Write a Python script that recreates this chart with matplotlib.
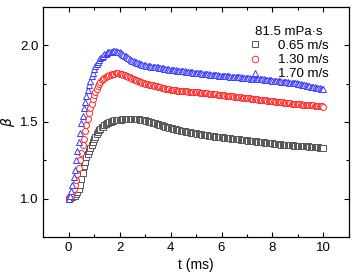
import matplotlib.pyplot as plt
import numpy as np

plt.rcParams['font.family'] = ['Liberation Sans', 'DejaVu Sans']
plt.rcParams['font.size'] = 9.5

# time axis, sampled every 0.05 ms
t = np.round(np.arange(201) * 0.05, 2)

beta_065 = [
    1.00, 1.005, 1.01, 1.01, 1.015, 1.02, 1.03, 1.045, 1.06, 1.09,
    1.13, 1.17, 1.21, 1.24, 1.27, 1.29, 1.31, 1.33, 1.35, 1.37,
    1.39, 1.405, 1.42, 1.435, 1.445, 1.455, 1.465, 1.47, 1.48, 1.485,
    1.49, 1.495, 1.50, 1.503, 1.505, 1.508, 1.51, 1.512, 1.513, 1.514,
    1.515, 1.516, 1.517, 1.518, 1.52, 1.521, 1.52, 1.522, 1.521, 1.521,
    1.52, 1.521, 1.52, 1.519, 1.518, 1.517, 1.515, 1.514, 1.512, 1.511,
    1.51, 1.507, 1.505, 1.502, 1.50, 1.497, 1.495, 1.492, 1.49, 1.487,
    1.485, 1.482, 1.48, 1.477, 1.475, 1.472, 1.47, 1.467, 1.465, 1.462,
    1.46, 1.458, 1.456, 1.454, 1.452, 1.45, 1.448, 1.446, 1.444, 1.442,
    1.44, 1.438, 1.437, 1.435, 1.434, 1.432, 1.431, 1.429, 1.428, 1.426,
    1.425, 1.424, 1.422, 1.421, 1.42, 1.418, 1.417, 1.415, 1.414, 1.412,
    1.41, 1.409, 1.408, 1.407, 1.406, 1.405, 1.404, 1.403, 1.402, 1.401,
    1.40, 1.399, 1.398, 1.397, 1.396, 1.395, 1.394, 1.393, 1.392, 1.391,
    1.39, 1.389, 1.388, 1.387, 1.386, 1.385, 1.384, 1.383, 1.382, 1.381,
    1.38, 1.379, 1.378, 1.377, 1.376, 1.375, 1.374, 1.373, 1.372, 1.371,
    1.37, 1.369, 1.368, 1.367, 1.366, 1.365, 1.364, 1.363, 1.362, 1.361,
    1.36, 1.359, 1.358, 1.357, 1.356, 1.355, 1.354, 1.353, 1.352, 1.351,
    1.35, 1.349, 1.349, 1.348, 1.348, 1.347, 1.347, 1.346, 1.346, 1.345,
    1.345, 1.344, 1.344, 1.343, 1.343, 1.342, 1.342, 1.341, 1.341, 1.340,
    1.34, 1.339, 1.338, 1.337, 1.336, 1.335, 1.334, 1.333, 1.332, 1.331,
    1.33,
]

beta_130 = [
    1.00, 1.01, 1.02, 1.04, 1.06, 1.09, 1.12, 1.16, 1.20, 1.25,
    1.30, 1.35, 1.39, 1.44, 1.48, 1.52, 1.56, 1.59, 1.62, 1.65,
    1.675, 1.695, 1.715, 1.733, 1.75, 1.762, 1.772, 1.78, 1.786, 1.792,
    1.797, 1.801, 1.805, 1.808, 1.811, 1.813, 1.815, 1.816, 1.816, 1.816,
    1.815, 1.813, 1.81, 1.807, 1.804, 1.80, 1.797, 1.793, 1.79, 1.786,
    1.783, 1.78, 1.776, 1.773, 1.77, 1.767, 1.763, 1.76, 1.757, 1.753,
    1.75, 1.748, 1.746, 1.744, 1.742, 1.74, 1.738, 1.736, 1.734, 1.732,
    1.73, 1.728, 1.726, 1.724, 1.722, 1.72, 1.718, 1.716, 1.714, 1.712,
    1.71, 1.709, 1.708, 1.707, 1.706, 1.705, 1.704, 1.703, 1.702, 1.701,
    1.70, 1.70, 1.699, 1.699, 1.698, 1.698, 1.697, 1.697, 1.696, 1.696,
    1.695, 1.694, 1.693, 1.692, 1.691, 1.69, 1.689, 1.688, 1.687, 1.686,
    1.685, 1.684, 1.683, 1.682, 1.681, 1.68, 1.679, 1.678, 1.677, 1.676,
    1.675, 1.674, 1.673, 1.672, 1.671, 1.67, 1.669, 1.668, 1.667, 1.666,
    1.665, 1.664, 1.663, 1.662, 1.661, 1.66, 1.659, 1.658, 1.657, 1.656,
    1.655, 1.654, 1.653, 1.652, 1.651, 1.65, 1.649, 1.648, 1.647, 1.646,
    1.645, 1.644, 1.643, 1.642, 1.641, 1.64, 1.639, 1.638, 1.637, 1.636,
    1.635, 1.634, 1.633, 1.632, 1.631, 1.63, 1.629, 1.628, 1.627, 1.626,
    1.625, 1.624, 1.623, 1.622, 1.621, 1.62, 1.619, 1.618, 1.617, 1.616,
    1.615, 1.614, 1.614, 1.613, 1.613, 1.612, 1.612, 1.611, 1.611, 1.610,
    1.61, 1.609, 1.608, 1.607, 1.606, 1.605, 1.604, 1.603, 1.602, 1.601,
    1.60,
]

beta_170 = [
    1.00, 1.02, 1.05, 1.09, 1.14, 1.19, 1.25, 1.31, 1.37, 1.43,
    1.49, 1.54, 1.59, 1.63, 1.67, 1.71, 1.74, 1.77, 1.80, 1.82,
    1.845, 1.863, 1.88, 1.893, 1.905, 1.915, 1.925, 1.933, 1.94, 1.945,
    1.95, 1.953, 1.955, 1.957, 1.959, 1.96, 1.96, 1.96, 1.958, 1.956,
    1.953, 1.948, 1.943, 1.938, 1.933, 1.927, 1.921, 1.915, 1.91, 1.905,
    1.90, 1.896, 1.892, 1.888, 1.885, 1.882, 1.879, 1.876, 1.873, 1.871,
    1.869, 1.867, 1.865, 1.863, 1.862, 1.86, 1.859, 1.858, 1.857, 1.856,
    1.855, 1.853, 1.852, 1.85, 1.849, 1.847, 1.846, 1.844, 1.843, 1.841,
    1.84, 1.839, 1.838, 1.837, 1.836, 1.835, 1.834, 1.833, 1.832, 1.831,
    1.83, 1.829, 1.828, 1.827, 1.826, 1.825, 1.824, 1.823, 1.822, 1.821,
    1.82, 1.819, 1.818, 1.817, 1.816, 1.815, 1.814, 1.813, 1.812, 1.811,
    1.81, 1.809, 1.808, 1.807, 1.806, 1.805, 1.804, 1.803, 1.802, 1.801,
    1.80, 1.799, 1.799, 1.798, 1.798, 1.797, 1.797, 1.796, 1.796, 1.795,
    1.795, 1.794, 1.793, 1.792, 1.791, 1.79, 1.789, 1.788, 1.787, 1.786,
    1.785, 1.784, 1.784, 1.783, 1.783, 1.782, 1.782, 1.781, 1.781, 1.78,
    1.78, 1.779, 1.778, 1.777, 1.776, 1.775, 1.774, 1.773, 1.772, 1.771,
    1.77, 1.769, 1.768, 1.767, 1.766, 1.765, 1.764, 1.763, 1.762, 1.761,
    1.76, 1.759, 1.758, 1.757, 1.756, 1.755, 1.754, 1.753, 1.752, 1.751,
    1.75, 1.748, 1.746, 1.744, 1.742, 1.74, 1.738, 1.736, 1.734, 1.732,
    1.73, 1.728, 1.727, 1.725, 1.724, 1.722, 1.72, 1.719, 1.717, 1.716,
    1.715,
]

labels = ['0.65 m/s', '1.30 m/s', '1.70 m/s']
colors = ['#555555', '#ff2a2a', '#3a3aff']
markers = ['s', 'o', '^']

fig = plt.figure(figsize=(3.59, 2.75), dpi=100)
ax = fig.add_axes([0.12, 0.138, 0.852, 0.837])

for y, lab, c, m in zip([beta_065, beta_130, beta_170], labels, colors, markers):
    ax.plot(t, y, linestyle='none', marker=m, markersize=4.3,
            markerfacecolor='white', markeredgecolor=c, markeredgewidth=0.7, label=lab)

ax.set_xlim(-1, 11)
ax.set_ylim(0.75, 2.25)
ax.set_xticks([0, 2, 4, 6, 8, 10])
ax.set_xticks([1, 3, 5, 7, 9], minor=True)
ax.set_yticks([1.0, 1.5, 2.0])
ax.set_yticks([1.25, 1.75], minor=True)
ax.tick_params(which='both', direction='in', top=True, right=True, width=0.8,
               labelsize=9.5)
ax.tick_params(which='major', length=3.6)
ax.tick_params(which='minor', length=2.2)
for s in ax.spines.values():
    s.set_linewidth(0.9)

ax.set_xlabel('t (ms)', fontsize=10, labelpad=3)
ax.set_ylabel(r'$\beta$', fontsize=10, labelpad=2)

ax.legend(title='81.5 mPa·s', loc='upper right', bbox_to_anchor=(0.965, 0.958),
          frameon=False, fontsize=9.5, title_fontsize=9.5, labelspacing=0.15,
          handletextpad=1.3, handlelength=1.0, borderaxespad=0.3, markerscale=1.1)

plt.savefig('out.png', dpi=100)
